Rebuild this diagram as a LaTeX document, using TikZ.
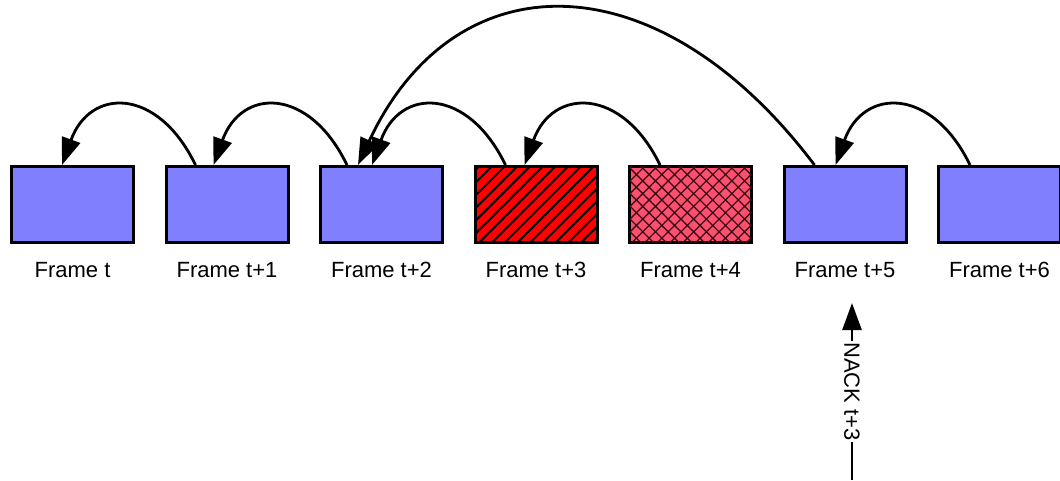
\documentclass[tikz,border=0pt]{standalone}
\usepackage{fontspec}
\setmainfont{Liberation Sans}
\usetikzlibrary{arrows.meta,patterns.meta}
\definecolor{frameblue}{HTML}{8080FF}
\definecolor{lostred}{HTML}{FF0000}
\definecolor{droppink}{HTML}{FF4F6E}
\definecolor{hatchdark}{HTML}{3A1018}

\begin{document}
\begin{tikzpicture}[x=1pt,y=-1pt,
  framebox/.style={draw=black, line width=3pt, fill=frameblue,
    minimum width=122pt, minimum height=76pt, inner sep=0pt},
  lostbox/.style={framebox, fill=lostred,
    postaction={pattern={Lines[angle=45,distance=9pt,line width=2pt]}, pattern color=black}},
  dropbox/.style={framebox, fill=droppink,
    postaction={pattern={Hatch[angle=45,distance=9pt,line width=1.3pt]}, pattern color=hatchdark}},
  labeltext/.style={font=\fontsize{22}{26}\selectfont, inner sep=0pt},
  refarrow/.style={draw=black, line width=2.8pt, -{Triangle[length=27pt,width=19pt]}},
]
\useasboundingbox (0,0) rectangle (1060,480);

% frames
\node[framebox] (f0) at (72.5,204.5) {};
\node[framebox] (f1) at (227,204.5) {};
\node[framebox] (f2) at (381.5,204.5) {};
\node[lostbox]  (f3) at (536,204.5) {};
\node[dropbox]  (f4) at (690.5,204.5) {};
\node[framebox] (f5) at (845,204.5) {};
\node[framebox] (f6) at (999.5,204.5) {};

% frame captions
\node[labeltext] (l0) at (72.5,270) {Frame t};
\node[labeltext] (l1) at (227,270) {Frame t+1};
\node[labeltext] (l2) at (381.5,270) {Frame t+2};
\node[labeltext] (l3) at (536,270) {Frame t+3};
\node[labeltext] (l4) at (690.5,270) {Frame t+4};
\node[labeltext] (l5) at (845,270) {Frame t+5};
\node[labeltext] (l6) at (999.5,270) {Frame t+6};

% references to the previous frame
\draw[refarrow] ([xshift=31pt]f1.north west) .. controls +(-38,-78.5) and +(28,-77.5) .. ([xshift=52pt]f0.north west);
\draw[refarrow] ([xshift=28pt]f2.north west) .. controls +(-38,-78.5) and +(28,-77.5) .. ([xshift=49pt]f1.north west);
\draw[refarrow] ([xshift=32pt]f3.north west) .. controls +(-38,-78.5) and +(28,-77.5) .. ([xshift=53pt]f2.north west);
\draw[refarrow] ([xshift=32pt]f4.north west) .. controls +(-38,-78.5) and +(28,-77.5) .. ([xshift=51pt]f3.north west);
\draw[refarrow] ([xshift=33pt]f6.north west) .. controls +(-38,-78.5) and +(28,-77.5) .. ([xshift=53pt]f5.north west);

% long-term reference after the NACK
\draw[refarrow] ([xshift=32pt]f5.north west) .. controls +(-157,-208) and +(96.5,-207) .. ([xshift=39pt]f2.north west);

% NACK feedback
\coordinate (nackfoot) at (852,480);
\coordinate (nacktip) at (852,303);
\draw[refarrow] (nackfoot) -- node[labeltext, midway, rotate=-90, fill=white, inner sep=1.5pt] (nacklabel) {NACK t+3} (nacktip);
\end{tikzpicture}
\end{document}
